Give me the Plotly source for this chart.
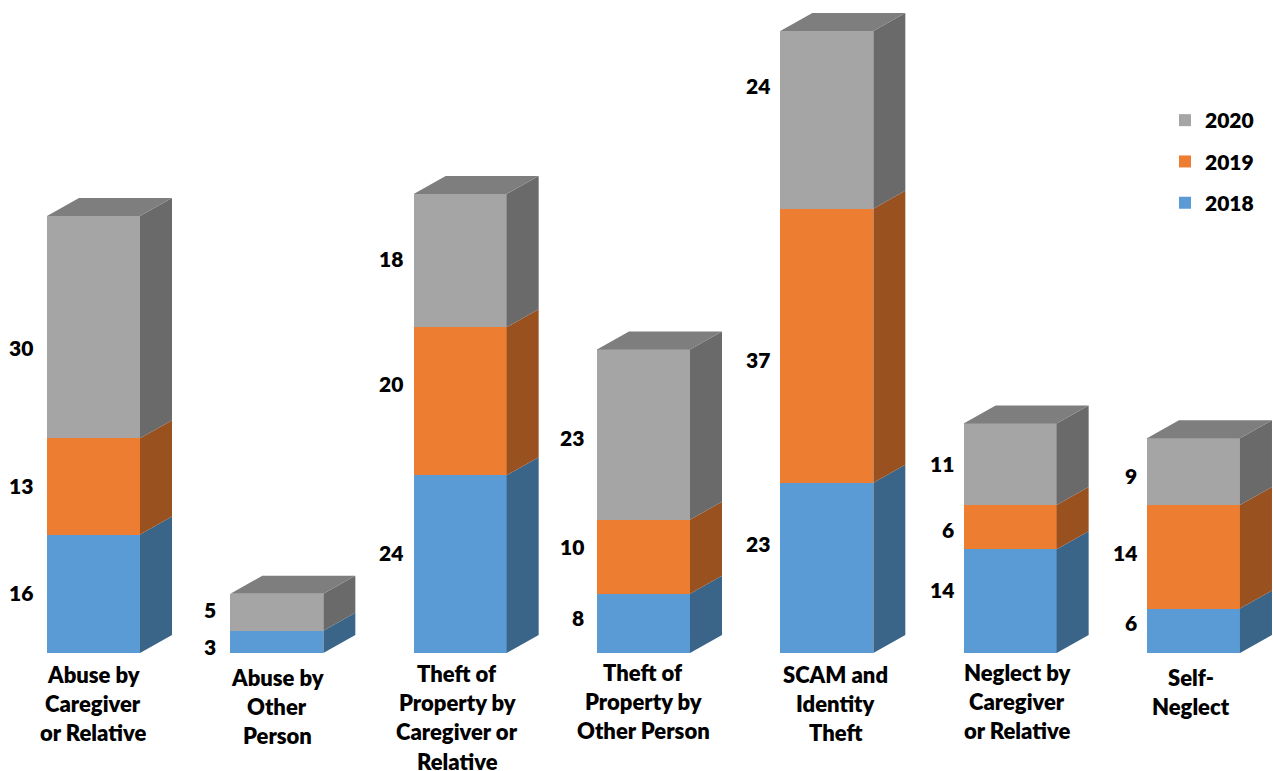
import plotly.graph_objects as go

categories = [
    ["Abuse by", "Caregiver", "or Relative"],
    ["Abuse by", "Other", "Person"],
    ["Theft of", "Property by", "Caregiver or", "Relative"],
    ["Theft of", "Property by", "Other Person"],
    ["SCAM and", "Identity", "Theft"],
    ["Neglect by", "Caregiver", "or Relative"],
    ["Self-", "Neglect"],
]
years = ["2018", "2019", "2020"]
v2018 = [16, 3, 24, 8, 23, 14, 6]
v2019 = [13, 0, 20, 10, 37, 6, 14]
v2020 = [30, 5, 18, 23, 24, 11, 9]

# Layout constants (pixel frame of the reference)
W, H = 1273, 771
PX_X0, PX_STEP = 93.5, 183.33      # first bar centre, bar spacing
PX_Y0, PX_UNIT = 653.0, 7.405      # baseline, pixels per unit
BAR_W = 93 / PX_STEP
DX, DY = 32 / PX_STEP, 18 / PX_UNIT
front = ["#5B9BD5", "#ED7D31", "#A5A5A5"]
side = ["#3A6488", "#9A5120", "#6A6A6A"]
top_col = "#7E7E7E"
FONT = "Lato"
TXT = "#000000"
SZ = 22
SZ_VAL = 21
WEIGHT = 800

# Where the value labels sit on the value axis (placed by hand in the original)
label_y = [
    [8.0, 22.5, 41.1],
    [0.8, None, 5.7],
    [13.5, 36.2, 53.2],
    [4.7, 14.2, 29.0],
    [14.6, 39.5, 76.5],
    [8.5, 16.6, 25.5],
    [4.0, 13.4, 23.9],
]
label_gap = [12, 12, 9, 11, 8, 8, 8]
cat_cx = [93, 277, 457, 643, 835, 1017, 1191]       # label centre px
cat_py = [674, 677, 673.5, 672, 674, 672, 677]      # first line px
LINE = 29.2

series = [v2018, v2019, v2020]
idx = list(range(len(categories)))
fig = go.Figure()

for s, vals in enumerate(series):
    fig.add_bar(x=idx, y=vals, width=BAR_W, name=years[s], marker=dict(color=front[s], line_width=0),
                legendgroup=years[s], legendrank=3 - s, hoverinfo="skip")

# Depth faces derived from the stacked values
for s, vals in enumerate(series):
    xs, ys = [], []
    for i in idx:
        if vals[i] == 0:
            continue
        base = sum(series[k][i] for k in range(s))
        r = i + BAR_W / 2
        xs += [r, r + DX, r + DX, r, r, None]
        ys += [base, base + DY, base + vals[i] + DY, base + vals[i], base, None]
    fig.add_scatter(x=xs, y=ys, mode="lines", line_width=0, fill="toself", fillcolor=side[s],
                    showlegend=False, hoverinfo="skip")

xs, ys = [], []
for i in idx:
    t = sum(v[i] for v in series)
    l, r = i - BAR_W / 2, i + BAR_W / 2
    xs += [l, l + DX, r + DX, r, l, None]
    ys += [t, t + DY, t + DY, t, t, None]
fig.add_scatter(x=xs, y=ys, mode="lines", line_width=0, fill="toself", fillcolor=top_col,
                showlegend=False, hoverinfo="skip")

ann = []
for i in idx:
    for s, vals in enumerate(series):
        if vals[i] == 0:
            continue
        ann.append(dict(x=i - BAR_W / 2, y=label_y[i][s], xref="x", yref="y", text=str(vals[i]),
                        showarrow=False, xanchor="right", yanchor="middle", xshift=-label_gap[i], yshift=1,
                        font=dict(family=FONT, size=SZ_VAL, color=TXT, weight=WEIGHT)))
    for n, line in enumerate(categories[i]):
        ann.append(dict(x=(cat_cx[i] - PX_X0) / PX_STEP, y=(PX_Y0 - cat_py[i] - n * LINE) / PX_UNIT,
                        xref="x", yref="y", text=line, showarrow=False, xanchor="center",
                        yanchor="middle", font=dict(family=FONT, size=SZ, color=TXT, weight=WEIGHT)))

fig.update_layout(
    width=W, height=H, margin=dict(l=0, r=0, t=0, b=0, pad=0),
    paper_bgcolor="white", plot_bgcolor="white", barmode="stack",
    xaxis=dict(range=[-PX_X0 / PX_STEP, (W - PX_X0) / PX_STEP], visible=False, fixedrange=True),
    yaxis=dict(range=[(PX_Y0 - H) / PX_UNIT, PX_Y0 / PX_UNIT], visible=False, fixedrange=True),
    annotations=ann,
    legend=dict(x=1172 / W, y=1 - 100 / H, xanchor="left", yanchor="top", traceorder="grouped",
                tracegroupgap=11, indentation=-7, bgcolor="rgba(0,0,0,0)",
                font=dict(family=FONT, size=SZ_VAL, color=TXT, weight=WEIGHT)),
    showlegend=True,
)
fig.write_html("out.html", config=dict(displayModeBar=False),
               post_script="document.body.style.margin='0';document.body.style.overflow='hidden';")
